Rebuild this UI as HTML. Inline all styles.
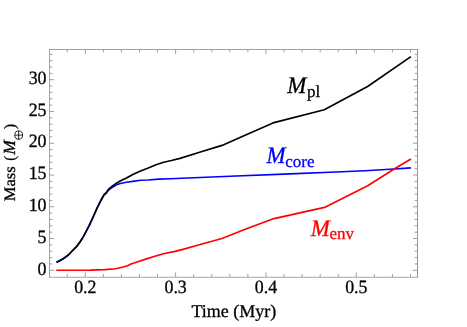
<!DOCTYPE html>
<html><head><meta charset="utf-8"><title>Mass vs Time</title>
<style>
html,body{margin:0;padding:0;background:#fff;}
body{width:467px;height:327px;overflow:hidden;font-family:"Liberation Serif",serif;}
svg{display:block;will-change:transform;}
text{font-family:"Liberation Serif",serif;text-rendering:geometricPrecision;}
</style></head><body>
<svg width="467" height="327" viewBox="0 0 467 327">
<g fill="none" stroke-linejoin="round" stroke-linecap="butt" stroke-width="1.65">
<polyline points="56.50,262.30 59.70,260.81 63.60,258.47 68.10,255.24 72.60,250.55 77.05,246.06 80.30,241.57 83.50,236.43 86.05,231.69 89.27,225.40 93.10,217.20 97.00,208.33 100.80,200.76 104.05,195.07 106.40,193.02 108.60,190.11 112.55,187.20 116.80,184.66 120.20,183.55 126.40,182.25 132.85,181.40 140.55,180.28 148.30,179.97 158.50,179.10 170.00,178.70 230.00,176.30 290.00,173.90 330.00,172.20 365.00,170.70 390.00,169.30 410.90,167.90" stroke="#0000ff"/>
<polyline points="56.30,270.20 90.00,270.10 105.00,269.60 115.50,268.70 122.40,267.30 127.50,265.70 131.00,264.00 137.80,261.80 146.40,258.90 155.00,256.30 163.50,253.80 175.00,251.40 182.00,249.60 202.00,244.00 222.00,238.50 244.50,229.60 274.00,218.60 324.50,207.40 367.70,185.80 394.50,168.80 410.90,159.00" stroke="#ff0000"/>
<polyline points="56.50,262.30 59.70,260.80 63.60,258.45 68.10,255.20 72.60,250.50 77.05,246.00 80.30,241.50 83.50,236.35 86.05,231.60 89.27,225.30 93.10,217.00 97.00,208.00 100.80,200.30 104.05,194.50 106.40,192.30 108.60,189.20 112.55,185.95 116.80,182.90 120.20,181.10 126.40,178.10 132.85,174.60 140.55,170.95 148.30,168.10 156.00,164.80 163.70,162.20 171.40,160.50 180.00,158.35 202.00,151.50 222.00,145.40 244.50,135.60 273.00,122.90 324.30,109.70 367.60,86.50 410.90,56.60" stroke="#000000"/>
</g>
<g stroke="#909090" stroke-width="1" fill="none">
<path d="M49.5 49.0V277.75" stroke="#a0a0a0"/>
<path d="M49.0 49.5H418.0" stroke="#a0a0a0"/>
<path d="M417.5 49.0V277.75" stroke="#949494"/>
<path d="M49.0 277.25H418.0" stroke="#a8a8a8"/>
<path d="M67.23 277.0v-2.9M67.23 49.5v2.9M85.30 277.0v-4.6M85.30 49.5v4.6M103.37 277.0v-2.9M103.37 49.5v2.9M121.43 277.0v-2.9M121.43 49.5v2.9M139.50 277.0v-2.9M139.50 49.5v2.9M157.56 277.0v-2.9M157.56 49.5v2.9M175.63 277.0v-4.6M175.63 49.5v4.6M193.70 277.0v-2.9M193.70 49.5v2.9M211.76 277.0v-2.9M211.76 49.5v2.9M229.83 277.0v-2.9M229.83 49.5v2.9M247.89 277.0v-2.9M247.89 49.5v2.9M265.96 277.0v-4.6M265.96 49.5v4.6M284.03 277.0v-2.9M284.03 49.5v2.9M302.09 277.0v-2.9M302.09 49.5v2.9M320.16 277.0v-2.9M320.16 49.5v2.9M338.22 277.0v-2.9M338.22 49.5v2.9M356.29 277.0v-4.6M356.29 49.5v4.6M374.36 277.0v-2.9M374.36 49.5v2.9M392.42 277.0v-2.9M392.42 49.5v2.9M410.49 277.0v-2.9M410.49 49.5v2.9M49.5 270.30h4.6M417.5 270.30h-4.6M49.5 263.95h2.9M417.5 263.95h-2.9M49.5 257.59h2.9M417.5 257.59h-2.9M49.5 251.24h2.9M417.5 251.24h-2.9M49.5 244.89h2.9M417.5 244.89h-2.9M49.5 238.54h4.6M417.5 238.54h-4.6M49.5 232.18h2.9M417.5 232.18h-2.9M49.5 225.83h2.9M417.5 225.83h-2.9M49.5 219.48h2.9M417.5 219.48h-2.9M49.5 213.12h2.9M417.5 213.12h-2.9M49.5 206.77h4.6M417.5 206.77h-4.6M49.5 200.42h2.9M417.5 200.42h-2.9M49.5 194.06h2.9M417.5 194.06h-2.9M49.5 187.71h2.9M417.5 187.71h-2.9M49.5 181.36h2.9M417.5 181.36h-2.9M49.5 175.00h4.6M417.5 175.00h-4.6M49.5 168.65h2.9M417.5 168.65h-2.9M49.5 162.30h2.9M417.5 162.30h-2.9M49.5 155.95h2.9M417.5 155.95h-2.9M49.5 149.59h2.9M417.5 149.59h-2.9M49.5 143.24h4.6M417.5 143.24h-4.6M49.5 136.89h2.9M417.5 136.89h-2.9M49.5 130.53h2.9M417.5 130.53h-2.9M49.5 124.18h2.9M417.5 124.18h-2.9M49.5 117.83h2.9M417.5 117.83h-2.9M49.5 111.48h4.6M417.5 111.48h-4.6M49.5 105.12h2.9M417.5 105.12h-2.9M49.5 98.77h2.9M417.5 98.77h-2.9M49.5 92.42h2.9M417.5 92.42h-2.9M49.5 86.06h2.9M417.5 86.06h-2.9M49.5 79.71h4.6M417.5 79.71h-4.6M49.5 73.36h2.9M417.5 73.36h-2.9M49.5 67.00h2.9M417.5 67.00h-2.9M49.5 60.65h2.9M417.5 60.65h-2.9M49.5 54.30h2.9M417.5 54.30h-2.9" stroke="#9e9e9e"/>
</g>
<g fill="#000" stroke="#000" stroke-width="0.3">
<text transform="translate(46.50,274.55) scale(0.992,1.04)" font-size="18" text-anchor="end">0</text>
<text transform="translate(46.50,242.79) scale(0.992,1.04)" font-size="18" text-anchor="end">5</text>
<text transform="translate(46.50,211.02) scale(0.992,1.04)" font-size="18" text-anchor="end">10</text>
<text transform="translate(46.50,179.25) scale(0.992,1.04)" font-size="18" text-anchor="end">15</text>
<text transform="translate(46.50,147.49) scale(0.992,1.04)" font-size="18" text-anchor="end">20</text>
<text transform="translate(46.50,115.73) scale(0.992,1.04)" font-size="18" text-anchor="end">25</text>
<text transform="translate(46.50,83.96) scale(0.992,1.04)" font-size="18" text-anchor="end">30</text>
<text transform="translate(85.30,292.55) scale(0.992,1.04)" font-size="18" text-anchor="middle">0.2</text>
<text transform="translate(175.63,292.55) scale(0.992,1.04)" font-size="18" text-anchor="middle">0.3</text>
<text transform="translate(265.96,292.55) scale(0.992,1.04)" font-size="18" text-anchor="middle">0.4</text>
<text transform="translate(356.29,292.55) scale(0.992,1.04)" font-size="18" text-anchor="middle">0.5</text>
<text transform="translate(233.90,316.60)" font-size="18" text-anchor="middle">Time (Myr)</text>
<text transform="translate(15.25,201.15) rotate(-90) scale(0.97,0.94)" font-size="17">Mass</text>
<text transform="translate(15.25,160.73) rotate(-90) scale(0.875,0.952)" font-size="17">(</text>
<text transform="translate(15.25,154.85) rotate(-90) scale(1.03,1.0)" font-size="17" font-style="italic">M</text>
<text transform="translate(15.25,129.31) rotate(-90) scale(0.954,0.94)" font-size="17">)</text>
</g>
<g stroke="#000" stroke-width="0.85" fill="none"><ellipse cx="18.7" cy="135.1" rx="3.9" ry="4.2"/><path d="M18.7 130.9v8.4M14.8 135.1h7.8"/></g>
<text transform="translate(287.35,93.10) scale(0.955,0.99)" font-size="24" font-style="italic" fill="#000000" stroke="#000000" stroke-width="0.3">M</text><text transform="translate(307.00,97.10)" font-size="17" fill="#000000" stroke="#000000" stroke-width="0.3">pl</text>
<text transform="translate(266.55,163.05) scale(0.955,0.99)" font-size="24" font-style="italic" fill="#0000ff" stroke="#0000ff" stroke-width="0.3">M</text><text transform="translate(285.30,167.00)" font-size="17" fill="#0000ff" stroke="#0000ff" stroke-width="0.3">core</text>
<text transform="translate(310.65,235.50) scale(0.955,0.99)" font-size="24" font-style="italic" fill="#ff0000" stroke="#ff0000" stroke-width="0.3">M</text><text transform="translate(329.40,239.40)" font-size="17" fill="#ff0000" stroke="#ff0000" stroke-width="0.3">env</text>
</svg>
</body></html>
